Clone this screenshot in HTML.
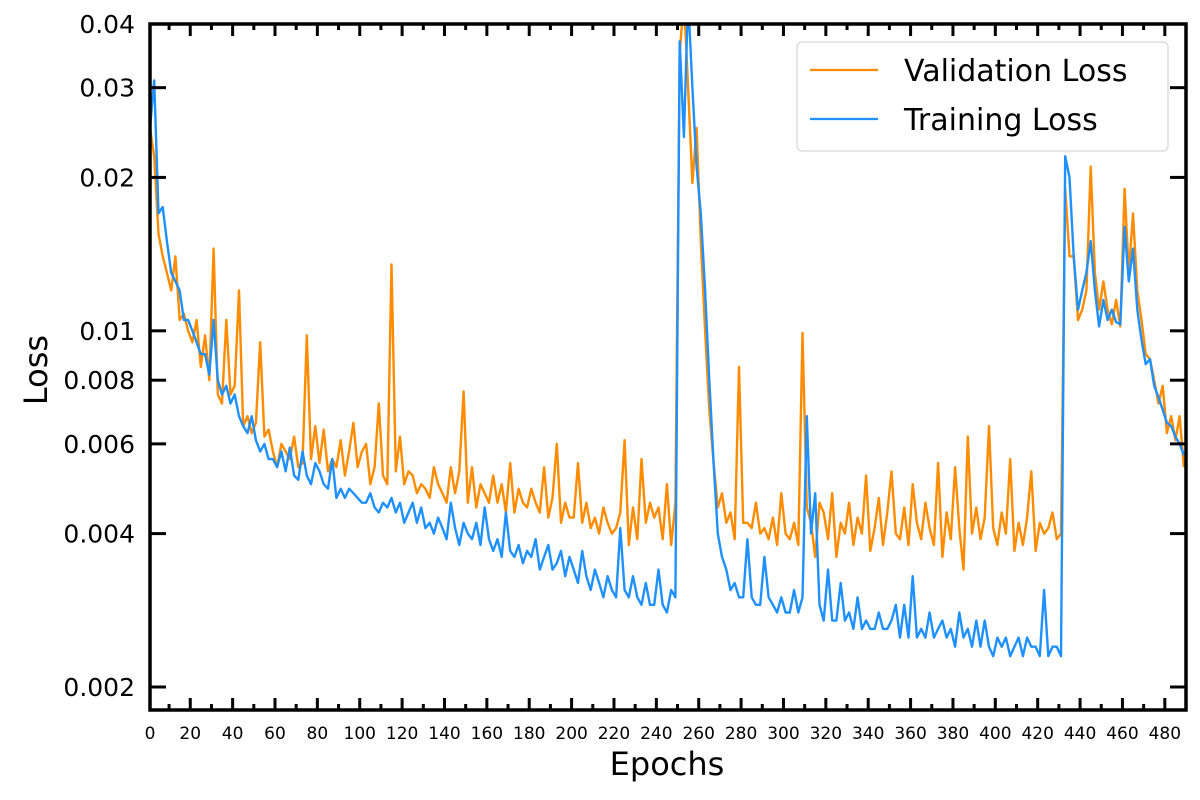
<!DOCTYPE html>
<html><head><meta charset="utf-8"><style>
body{margin:0;background:#fff;}
svg{display:block;font-family:"DejaVu Sans","Liberation Sans",sans-serif;}
</style></head><body>
<svg id="chart" width="1200" height="800"></svg>
<script>
// Values in units of 1e-3; epochs are 1,3,5,...
const valLoss=[25,22,15.5,14,13,12,14,10.5,10.8,10,
9.5,10.5,8.5,9.8,8,14.5,7.5,7.2,10.5,7.5,
7.8,12,6.5,6.8,6.3,6.6,9.5,6.2,6.4,5.8,
5.4,6.0,5.8,5.6,6.2,5.4,5.5,9.8,5.6,6.5,
5.5,6.4,5.3,5.6,5.4,6.1,5.2,5.8,6.6,5.4,
5.8,6.0,5.0,5.4,7.2,5.2,5.0,13.5,5.3,6.2,
5.0,5.3,5.2,4.8,5.0,4.9,4.7,5.4,5.0,4.8,
4.6,5.4,4.8,5.3,7.6,4.6,5.4,4.5,5.0,4.8,
4.6,5.2,4.6,5.0,4.4,5.5,4.4,4.9,4.6,4.5,
4.9,4.6,4.4,5.4,4.3,4.7,6.0,4.2,4.6,4.3,
4.3,5.5,4.2,4.6,4.1,4.3,4.0,4.5,4.2,4.0,
4.1,4.4,6.1,3.8,4.5,3.9,5.6,4.2,4.6,4.3,
4.5,3.9,5.0,3.8,4.6,
35,45,30,19.5,25,15,10,7,5.5,4.5,
4.8,4.2,4.4,3.9,8.5,4.2,4.2,4.1,4.6,4.0,
4.1,3.9,4.3,3.8,4.8,4.0,3.9,4.2,3.8,9.9,
4.5,4.2,3.6,4.6,4.4,3.9,4.8,3.6,4.2,4.0,
4.6,3.8,4.3,4.0,5.2,3.7,4.1,4.7,3.8,4.4,
5.3,4.0,3.9,4.5,3.8,5.0,4.2,3.9,4.6,4.1,
3.8,5.5,3.6,4.4,3.9,5.4,4.1,3.4,6.2,4.0,
4.5,3.9,4.3,6.5,4.1,3.8,4.4,4.0,5.6,3.7,
4.2,3.8,4.3,5.3,3.7,4.2,4.0,4.1,4.4,3.9,
4.0,
19,14,14,10.5,11,12,21,13,11,12.5,
11,10.3,11.5,10.2,19,13,17,12,10.5,9.0,
8.8,8.0,7.2,7.8,6.3,6.8,6.1,6.8,5.4];
const trainLoss=[25,31,17,17.5,15,13,12.5,12,10.5,10.5,
10,9.5,9,9,8.2,10.5,8,7.5,7.8,7.2,
7.5,6.8,6.5,6.3,6.8,6.1,5.8,6,5.6,5.6,
5.4,5.8,5.3,5.9,5.2,5.1,5.8,5.2,5.0,5.5,
5.3,5.0,4.9,5.6,4.7,4.9,4.7,4.9,4.8,4.7,
4.6,4.6,4.8,4.5,4.4,4.6,4.5,4.7,4.4,4.6,
4.2,4.4,4.6,4.2,4.5,4.1,4.2,4.0,4.3,4.1,
3.9,4.6,4.1,3.8,4.2,4.0,3.9,4.2,3.8,4.5,
3.9,3.7,3.9,3.6,4.4,3.7,3.6,3.8,3.5,3.7,
3.6,3.9,3.4,3.6,3.8,3.4,3.5,3.7,3.3,3.6,
3.4,3.2,3.7,3.3,3.1,3.4,3.2,3.0,3.3,3.1,
3.0,4.1,3.1,3.0,3.3,3.0,2.9,3.2,2.9,2.9,
3.4,2.9,2.8,3.1,3.0,
37,24,45,30,21,17,12,8,5.5,4.0,
3.6,3.4,3.1,3.2,3.0,3.0,3.9,3.0,2.9,2.9,
3.6,3.0,2.9,2.8,3.0,2.8,2.8,3.1,2.8,3.0,
6.8,4.0,4.8,2.9,2.7,3.4,2.7,2.7,3.2,2.7,
2.8,2.6,3.0,2.6,2.7,2.6,2.6,2.8,2.6,2.6,
2.7,2.9,2.5,2.9,2.5,3.3,2.5,2.6,2.5,2.8,
2.5,2.6,2.7,2.5,2.6,2.4,2.8,2.5,2.6,2.4,
2.7,2.4,2.7,2.4,2.3,2.5,2.4,2.5,2.3,2.4,
2.5,2.3,2.5,2.4,2.4,2.3,3.1,2.3,2.4,2.4,
2.3,
22,20,14,11,12,13,15,12,10.2,11.5,
10.5,11,10.4,10.3,16,12.5,14.5,11,9.6,8.6,
8.8,7.8,7.4,7.0,6.6,6.5,6.2,6.0,5.7];
const yTickValues=[2,4,6,8,10,20,30,40];
const yTickLabels=["0.002","0.004","0.006","0.008","0.01","0.02","0.03","0.04"];
const xTickValues=[0,20,40,60,80,100,120,140,160,180,200,220,240,260,280,300,320,340,360,380,400,420,440,460,480];

const NS="http://www.w3.org/2000/svg";
const svg=document.getElementById('chart');
const L=150,R=1186,T=24,B=710;
const X0=1,X1=490;
const yTop=40,yPxPerDecade=509.6;
function xs(e){return L+(e-X0)*(R-L)/(X1-X0);}
function ys(v){return T+(Math.log10(yTop)-Math.log10(v))*yPxPerDecade;}
function mk(tag,attrs,parent){const el=document.createElementNS(NS,tag);for(const k in attrs)el.setAttribute(k,attrs[k]);(parent||svg).appendChild(el);return el;}

const defs=mk('defs',{});
const cp=mk('clipPath',{id:'clip'},defs);
mk('rect',{x:L,y:T,width:R-L,height:B-T},cp);

function series(arr,color,name){
  const pts=arr.map((v,i)=>xs(1+2*i).toFixed(1)+','+ys(v).toFixed(1)).join(' ');
  const p=mk('polyline',{points:pts,fill:'none',stroke:color,'stroke-width':2.4,'stroke-linejoin':'round','clip-path':'url(#clip)'});
  
  
}
series(valLoss,'#ff8c00','validation-loss-line');
series(trainLoss,'#1e90ff','training-loss-line');

const tg=mk('g',{stroke:'#000','stroke-width':3});


for(let e=10;e<=490;e+=10){
  const x=xs(e); if(x<=L+1||x>=R-1)continue;
  const len=(e%20===0)?12:6;
  mk('line',{x1:x,y1:B,x2:x,y2:B-len},tg);
  mk('line',{x1:x,y1:T,x2:x,y2:T+len},tg);
}
const xl=mk('g',{'font-size':17,'text-anchor':'middle',fill:'#000'});


xTickValues.forEach(v=>{
  const t=mk('text',{x:v===0?L:xs(v),y:739},xl); t.textContent=String(v);
});
const yl=mk('g',{'font-size':25,'text-anchor':'end',fill:'#000'});


yTickValues.forEach((v,i)=>{
  const y=ys(v);
  if(y>T+2){mk('line',{x1:L,y1:y,x2:L+16,y2:y},tg);mk('line',{x1:R,y1:y,x2:R-16,y2:y},tg);}
  const t=mk('text',{x:135,y:y+9},yl); t.textContent=yTickLabels[i];
});
const frame=mk('rect',{x:L,y:T,width:R-L,height:B-T,fill:'none',stroke:'#000','stroke-width':3.5});



const xt=mk('text',{x:667,y:775,'font-size':32,'text-anchor':'middle'});


xt.textContent='Epochs';
const yt=mk('text',{x:0,y:0,'font-size':32,'text-anchor':'middle',transform:'translate(47,370) rotate(-90)'});


yt.textContent='Loss';

const lg=mk('g',{});


mk('rect',{x:797,y:42,width:371,height:109,rx:5,fill:'#fff','fill-opacity':0.85,stroke:'#d6d6d6','stroke-width':1.2},lg);
const e1=mk('g',{},lg);


mk('line',{x1:810,y1:70,x2:878,y2:70,stroke:'#ff8c00','stroke-width':2.2},e1);
const t1=mk('text',{x:904,y:81,'font-size':30},e1); t1.textContent='Validation Loss';
const e2=mk('g',{},lg);


mk('line',{x1:810,y1:119,x2:878,y2:119,stroke:'#1e90ff','stroke-width':2.2},e2);
const t2=mk('text',{x:904,y:130,'font-size':30},e2); t2.textContent='Training Loss';
</script>
</body></html>
